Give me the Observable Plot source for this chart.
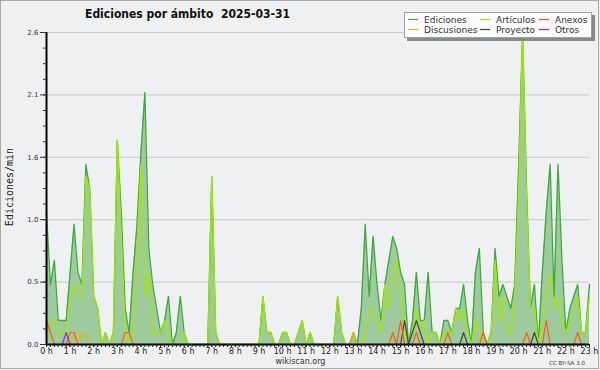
<!DOCTYPE html>
<html><head><meta charset="utf-8">
<script src="https://cdn.jsdelivr.net/npm/d3@7"></script>
<script src="https://cdn.jsdelivr.net/npm/@observablehq/plot@0.6"></script>
<style>
html,body{margin:0;padding:0;background:#eff0f1;}
#wrap{position:relative;width:600px;height:370px;overflow:hidden;background:#eff0f1;}
#wrap svg{position:absolute;left:0;top:0;}
</style></head>
<body><div id="wrap"></div>
<script>
// Ediciones por minuto, muestras cada 10 minutos (0:00 .. 23:00)
const ediciones = [
  1.1,0.5,0.7,0.2,0.2,0.2,   0.6,1.0,0.6,0.5,1.5,1.3,
  0.4,0.3,0,0.1,0,0.1,       1.7,1.1,0.3,0.1,0.6,1.0,
  1.6,2.1,0.8,0.5,0.3,0.1,   0.2,0.4,0,0.1,0.4,0.1,
  0,0,0,0,0,0,               1.4,0.1,0,0,0,0,
  0,0,0,0,0,0,               0,0.4,0.1,0.1,0,0,
  0.1,0.1,0,0,0.1,0.2,       0,0.1,0,0,0,0,
  0,0,0.4,0.1,0,0,           0.1,0,0.3,1.0,0.4,0.9,
  0.5,0.2,0.5,0.7,0.9,0.8,   0.6,0.5,0,0.2,0.6,0.2,
  0.2,0.6,0.1,0.1,0,0.2,     0.2,0.1,0.3,0.3,0.5,0.2,
  0,0.6,0.8,0.1,0,0.1,       0.8,0.4,0.5,0.4,0.3,0.5,
  1.5,2.6,1.3,0.3,0.5,0,     0.6,1.1,1.5,0.4,1.5,0.7,
  0.1,0.3,0.4,0.5,0.1,0.1,   0.5
];
const articulos = [
  0,0.2,0.2,0.1,0.1,0.1,     0.4,0.5,0.4,0.4,1.4,1.3,
  0.4,0.3,0,0.1,0,0.1,       1.7,0.9,0.1,0,0.1,0.8,
  1.5,0.4,0.6,0.1,0.1,0.1,   0.2,0.1,0,0,0,0.1,
  0,0,0,0,0,0,               1.4,0.1,0,0,0,0,
  0,0,0,0,0,0,               0,0.4,0.1,0.1,0,0,
  0.1,0.1,0,0,0.1,0.2,       0,0.1,0,0,0,0,
  0,0,0.4,0.1,0,0,           0,0,0,0.1,0.3,0.3,
  0.2,0.1,0.5,0.3,0.6,0.7,   0.4,0.1,0,0.1,0.3,0.1,
  0.2,0,0.1,0.1,0,0.1,       0.1,0.1,0.3,0.2,0.3,0.1,
  0,0.2,0.1,0,0,0.1,         0.7,0.2,0.4,0.1,0.1,0.4,
  1.3,2.6,1.2,0.3,0.3,0,     0.2,0.4,0.6,0.3,0.4,0.2,
  0.1,0.2,0.3,0.4,0.1,0.1,   0.4
];
const anexos = [
  0.2,0.1,0,0,0,0,           0.1,0.1,0,0,0,0,
  0,0,0,0,0,0,               0,0,0.1,0.1,0,0,
  0,0,0,0,0,0,               0,0,0,0,0,0,
  0,0,0,0,0,0,               0,0,0,0,0,0,
  0,0,0,0,0,0,               0,0,0,0,0,0,
  0,0,0,0,0,0,               0,0,0,0,0,0,
  0,0,0,0,0,0,               0,0,0,0,0,0,
  0,0,0,0,0.1,0,             0.2,0,0,0,0.1,0,
  0,0,0,0,0,0,               0.1,0,0,0,0,0,
  0,0,0,0.1,0,0,             0,0,0,0,0,0,
  0,0,0.1,0,0,0,             0,0.2,0,0,0,0,
  0,0,0,0.1,0,0,             0
];
const discusiones = [
  0,0,0,0,0,0,               0,0.1,0,0.1,0.1,0,
  0,0,0,0,0,0,               0,0,0,0,0,0,
  0,0,0,0,0,0,               0,0,0,0,0,0,
  0,0,0,0,0,0,               0,0,0,0,0,0,
  0,0,0,0,0,0,               0,0,0,0,0,0,
  0,0,0,0,0,0,               0,0,0,0,0,0,
  0,0,0,0,0,0,               0.1,0,0,0,0,0,
  0,0,0,0,0,0,               0,0,0,0,0,0,
  0,0,0,0,0,0,               0,0,0,0,0,0,
  0,0,0,0,0,0,               0,0,0,0,0,0,
  0,0,0,0,0,0,               0,0,0,0,0,0,
  0,0,0,0,0,0,               0
];
const proyecto = [
  0,0,0,0,0,0,               0,0,0,0,0,0,
  0,0,0,0,0,0,               0,0,0,0,0,0,
  0,0,0,0,0,0,               0,0,0,0,0,0,
  0,0,0,0,0,0,               0,0,0,0,0,0,
  0,0,0,0,0,0,               0,0,0,0,0,0,
  0,0,0,0,0,0,               0,0,0,0,0,0,
  0,0,0,0,0,0,               0,0,0,0,0,0,
  0,0,0,0,0,0,               0,0.2,0,0.1,0.2,0.1,
  0,0,0,0,0,0,               0,0,0,0,0.1,0,
  0,0,0,0,0,0,               0,0,0,0,0,0,
  0,0,0,0,0.1,0,             0,0,0,0,0,0,
  0,0,0,0,0,0,               0
];
const otros = [
  0,0,0,0,0,0.1,             0,0,0,0,0,0,
  0,0,0,0,0,0,               0,0,0,0,0,0,
  0,0,0,0,0,0,               0,0,0,0,0,0,
  0,0,0,0,0,0,               0,0,0,0,0,0,
  0,0,0,0,0,0,               0,0,0,0,0,0,
  0,0,0,0,0,0,               0,0,0,0,0,0,
  0,0,0,0,0,0,               0,0,0,0,0,0,
  0,0,0,0,0,0,               0,0,0,0,0,0,
  0,0,0,0,0,0,               0,0,0,0,0,0,
  0,0,0,0,0,0,               0,0,0,0,0,0,
  0,0,0,0,0,0,               0,0,0,0,0,0,
  0,0,0,0,0,0,               0
];
const hourTicks = [0,1,2,3,4,5,6,7,8,9,10,11,12,13,14,15,16,17,18,19,20,21,22,23];
const hourLabels = ["0 h","1 h","2 h","3 h","4 h","5 h","6 h","7 h","8 h","9 h","10 h","11 h","12 h","13 h","14 h","15 h","16 h","17 h","18 h","19 h","20 h","21 h","22 h","23 h"];
const yTickValues = [0, 0.52, 1.04, 1.56, 2.08, 2.6];
const yTickLabels = ["0.0","0.5","1.0","1.6","2.1","2.6"];
const seriesNames = ["Ediciones","Discusiones","Artículos","Proyecto","Anexos","Otros"];
const seriesColors = ["#3da83d","#f2b300","#a4e800","#444444","#ff5a14","#8a2be2"];
const title = "Ediciones por ámbito  2025-03-31";
const yTitle = "Ediciones/min";
const footer = "wikiscan.org";
const license = "CC BY-SA 3.0";

const rows = ediciones.map((v, i) => ({
  t: i / 6, ed: v, art: articulos[i], anx: anexos[i], disc: discusiones[i], proy: proyecto[i], otr: otros[i]
}));
const xMinor = rows.map(r => r.t);
const yMinor = d3.range(0, 21).map(k => +(k * 0.13).toFixed(2));
const col = n => seriesColors[seriesNames.indexOf(n)];

const chart = Plot.plot({
  width: 600, height: 370,
  marginTop: 32, marginRight: 11, marginBottom: 26, marginLeft: 46,
  style: {background: "transparent", fontFamily: "'DejaVu Sans', sans-serif", fontSize: "8px", color: "#000", overflow: "visible"},
  x: {domain: [0, 23], axis: null, label: null},
  y: {domain: [0, 2.6], axis: null, label: null},
  marks: [
    Plot.gridY(yTickValues, {stroke: "#c8c8c8", strokeOpacity: 1}),
    Plot.areaY(rows, {x: "t", y: "ed", fill: "#9ecb9e", fillOpacity: 1}),
    Plot.lineY(rows, {x: "t", y: "ed", stroke: col("Ediciones"), strokeWidth: 1.3}),
    Plot.lineY(rows, {x: "t", y: "art", stroke: col("Artículos"), strokeWidth: 1.3}),
    Plot.lineY(rows, {x: "t", y: "disc", stroke: col("Discusiones"), strokeWidth: 1.2}),
    Plot.lineY(rows, {x: "t", y: "proy", stroke: col("Proyecto"), strokeWidth: 1.2}),
    Plot.lineY(rows, {x: "t", y: "anx", stroke: col("Anexos"), strokeWidth: 1.2}),
    Plot.lineY(rows, {x: "t", y: "otr", stroke: col("Otros"), strokeWidth: 1.2}),
    Plot.ruleX([0], {stroke: "#000", strokeWidth: 2}),
    Plot.ruleY([0], {stroke: "#000", strokeWidth: 2}),
    Plot.axisY(yTickValues, {tickSize: 6, tickPadding: 2, fontSize: 7, color: "#333", tickFormat: d => yTickLabels[yTickValues.indexOf(d)], label: null}),
    Plot.axisY(yMinor, {tickSize: 3, tickFormat: () => "", color: "#333", label: null}),
    Plot.axisX(hourTicks, {tickSize: 3, tickPadding: 1, fontSize: 8, color: "#222", tickFormat: d => hourLabels[d], label: null}),
    Plot.axisX(xMinor, {tickSize: 3, tickFormat: () => "", color: "#222", label: null})
  ]
});
const wrap = document.getElementById("wrap");
wrap.appendChild(chart);

// overlay: title, legend, axis title, footer, border
const ns = "http://www.w3.org/2000/svg";
const ov = d3.select(wrap).append("svg").attr("width", 600).attr("height", 370)
  .style("font-family", "'DejaVu Sans', sans-serif");
ov.append("rect").attr("x", 0.5).attr("y", 0.5).attr("width", 598).attr("height", 368)
  .attr("fill", "none").attr("stroke", "#a9a9a9");
ov.append("text").attr("x", 85).attr("y", 18.3).attr("font-weight", "bold").attr("font-size", 12.5)
  .attr("textLength", 205).attr("lengthAdjust", "spacingAndGlyphs").attr("fill", "#111")
  .style("white-space", "pre").attr("xml:space", "preserve").text(title);
ov.append("text").attr("transform", "translate(13,187) rotate(-90)").attr("text-anchor", "middle")
  .attr("font-family", "'DejaVu Sans Mono', monospace").attr("font-size", 10).attr("fill", "#222").text(yTitle);
ov.append("text").attr("x", 300.5).attr("y", 364).attr("text-anchor", "middle").attr("font-size", 8).attr("fill", "#333").text(footer);
ov.append("text").attr("x", 549).attr("y", 365).attr("font-size", 5.6).attr("fill", "#444").text(license);
// legend
const lg = ov.append("g");
lg.append("rect").attr("x", 407).attr("y", 15).attr("width", 188).attr("height", 26).attr("fill", "#8a8a8a");
lg.append("rect").attr("x", 404.5).attr("y", 12.5).attr("width", 187).attr("height", 25).attr("fill", "#fcfcfc").attr("stroke", "#a0a0a0");
const legPos = [[408, 19.5], [408, 29.5], [480, 19.5], [480, 29.5], [539, 19.5], [539, 29.5]];
seriesNames.forEach((n, i) => {
  const [x, y] = legPos[i];
  lg.append("line").attr("x1", x).attr("x2", x + 10).attr("y1", y).attr("y2", y).attr("stroke", seriesColors[i]).attr("stroke-width", 1.2);
  lg.append("text").attr("x", x + 16).attr("y", y + 3.3).attr("font-size", 9).attr("fill", "#333").text(n);
});
</script></body></html>
